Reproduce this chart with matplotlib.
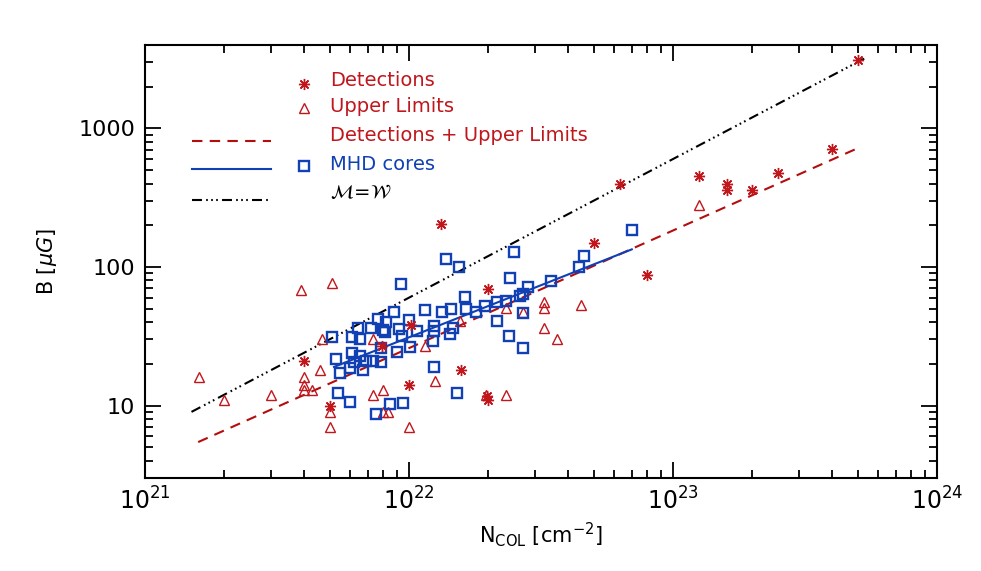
import matplotlib
matplotlib.use("Agg")
import matplotlib.pyplot as plt
from matplotlib.ticker import LogLocator, NullFormatter, FixedLocator, FixedFormatter

# ---------------- data ----------------
det_N = [5.0e23, 4.0e23, 2.5e23, 1.26e23, 1.6e23, 1.6e23, 2.0e23, 6.3e22, 8.0e22,
         5.0e22, 1.32e22, 2.0e22, 1.02e22, 1.58e22, 1.0e22, 2.0e22, 1.97e22,
         4.0e21, 7.9e21, 5.0e21]
det_B = [3100, 710, 480, 450, 400, 360, 360, 400, 87,
         150, 204, 69, 38, 18, 14, 11, 11.8,
         21, 27, 10]

ul_N = [1.6e21, 2.0e21, 3.0e21, 3.9e21, 4.0e21, 4.0e21, 4.0e21, 4.3e21, 4.6e21,
        4.7e21, 5.1e21, 5.0e21, 5.0e21, 7.3e21, 8.0e21, 8.0e21, 8.3e21, 7.3e21,
        1.0e22, 1.15e22, 1.26e22, 1.56e22, 1.96e22, 2.34e22, 2.34e22, 2.7e22,
        3.25e22, 3.25e22, 3.25e22, 3.65e22, 4.5e22, 1.26e23]
ul_B = [16, 11, 12, 68, 16, 14, 13, 13, 18,
        30, 77, 9, 7, 12, 13, 9, 9, 30,
        7, 27, 15, 41, 12, 12, 51, 47,
        56, 51, 36, 30, 53, 280]

mhd_N = [5.1e21, 5.3e21, 5.5e21, 5.4e21, 6.0e21, 6.0e21, 6.1e21, 6.1e21, 6.2e21,
         6.4e21, 6.5e21, 6.5e21, 6.7e21, 6.9e21, 7.2e21, 7.3e21, 7.5e21, 7.6e21,
         7.8e21, 7.8e21, 8.0e21, 8.1e21, 8.2e21, 8.5e21, 8.8e21, 9.0e21, 9.2e21,
         9.3e21, 9.4e21, 9.5e21, 1.0e22, 1.01e22, 1.07e22, 1.15e22, 1.24e22,
         1.24e22, 1.23e22, 1.24e22, 1.33e22, 1.38e22, 1.43e22, 1.44e22, 1.47e22,
         1.52e22, 1.55e22, 1.63e22, 1.65e22, 1.79e22, 1.94e22, 2.15e22, 2.15e22,
         2.33e22, 2.39e22, 2.42e22, 2.49e22, 2.63e22, 2.7e22, 2.71e22, 2.71e22,
         2.83e22, 3.44e22, 4.4e22, 4.6e22, 7.0e22]
mhd_B = [31, 21.6, 17.3, 12.3, 10.6, 18.6, 24, 31.4, 20.5,
         36, 30, 22.6, 18.2, 20.8, 36.5, 20.8, 8.7, 42,
         26, 20.7, 35, 33.7, 40, 10.3, 47, 24.5, 35.4,
         76, 32, 10.4, 41.5, 26.3, 34.6, 49, 37.6,
         34.7, 29.3, 19, 47, 114, 32.7, 49.5, 36.5,
         12.4, 100, 60.5, 50, 47, 52, 56, 41,
         57, 32, 83, 129, 62, 46.6, 26, 63.4,
         72, 79, 100, 120, 185]

# fitted / reference lines (end points)
fit_all_N = [1.59e21, 5.04e23]
fit_all_B = [5.45, 724]
fit_mhd_N = [5.2e21, 6.98e22]
fit_mhd_B = [19.0, 134]
mw_N = [1.5e21, 5.3e23]
mw_B = [9.0, 3190]

RED = '#c0161c'
DRED = '#b40d0d'
BLUE = '#1040b4'

plt.rcParams['font.family'] = ['DejaVu Sans']
plt.rcParams['mathtext.fontset'] = 'dejavusans'

fig = plt.figure(figsize=(9.81, 5.71), dpi=100)
ax = fig.add_axes([145/981, 1-478/571, 792/981, 433/571])
ax.set_xscale('log')
ax.set_yscale('log')
ax.set_xlim(1e21, 1e24)
ax.set_ylim(3, 4000)

lw = 1.5
ax.plot(mw_N, mw_B, color='black', lw=lw,
        linestyle=(0, (4.8, 2, 0.8, 1.6, 0.8, 1.6, 0.8, 2)), zorder=2)
ax.plot(fit_all_N, fit_all_B, color=DRED, lw=lw, linestyle=(0, (5, 3.5)), zorder=2)
ax.plot(fit_mhd_N, fit_mhd_B, color=BLUE, lw=lw, linestyle='-', zorder=2)

ax.plot(ul_N, ul_B, linestyle='none', marker='^', ms=7.5, mfc='none',
        mec=RED, mew=1.0, zorder=3)
ax.plot(mhd_N, mhd_B, linestyle='none', marker='s', ms=7.2, mfc='none',
        mec=BLUE, mew=1.7, zorder=3)
ax.plot(det_N, det_B, linestyle='none', marker=(8, 2, 0), ms=8, mfc='none',
        mec=RED, mew=1.0, zorder=4)

# ---------------- legend (hand placed, axes fraction) ----------------
T = ax.transAxes
fs = 14
x_text = 0.2336
x_sym = 0.201
ax.plot([x_sym], [0.910], transform=T, marker=(8, 2, 0), ms=8, mec=RED, mew=1.0,
        linestyle='none', clip_on=False)
ax.text(x_text, 0.917, 'Detections', color=RED, fontsize=fs, transform=T, va='center')
ax.plot([x_sym], [0.854], transform=T, marker='^', ms=7.5, mfc='none', mec=RED,
        mew=1.0, linestyle='none', clip_on=False)
ax.text(x_text, 0.858, 'Upper Limits', color=RED, fontsize=fs, transform=T, va='center')
ax.plot([0.059, 0.159], [0.778, 0.778], transform=T, color=DRED, lw=lw,
        linestyle=(0, (5, 3.5)), clip_on=False)
ax.text(x_text, 0.790, 'Detections + Upper Limits', color=RED, fontsize=fs,
        transform=T, va='center')
ax.plot([0.059, 0.159], [0.713], transform=T, color=BLUE, lw=lw, clip_on=False) if False else \
    ax.plot([0.059, 0.159], [0.713, 0.713], transform=T, color=BLUE, lw=lw, clip_on=False)
ax.plot([x_sym], [0.7206], transform=T, marker='s', ms=7.2, mfc='none', mec=BLUE,
        mew=1.7, linestyle='none', clip_on=False)
ax.text(x_text, 0.725, 'MHD cores', color=BLUE, fontsize=fs, transform=T, va='center')
ax.plot([0.059, 0.159], [0.642, 0.642], transform=T, color='black', lw=lw,
        linestyle=(0, (4.8, 2, 0.8, 1.6, 0.8, 1.6, 0.8, 2)), clip_on=False)
ax.text(x_text, 0.660, r'$\mathcal{M}\!=\!\mathcal{W}$', color='black', fontsize=fs,
        transform=T, va='center')

# ---------------- axes styling ----------------
for s in ax.spines.values():
    s.set_linewidth(1.5)
ax.xaxis.set_major_locator(LogLocator(base=10, numticks=10))
ax.xaxis.set_minor_locator(LogLocator(base=10, subs=range(2, 10), numticks=100))
ax.xaxis.set_minor_formatter(NullFormatter())
ax.yaxis.set_major_locator(FixedLocator([10, 100, 1000]))
ax.yaxis.set_major_formatter(FixedFormatter(['10', '100', '1000']))
ax.yaxis.set_minor_locator(LogLocator(base=10, subs=range(2, 10), numticks=100))
ax.yaxis.set_minor_formatter(NullFormatter())
ax.tick_params(which='both', direction='in', top=True, right=True, width=1.3)
ax.tick_params(which='major', length=11.5)
ax.tick_params(which='minor', length=5.8)
ax.tick_params(axis='y', labelsize=16, pad=7)
ax.tick_params(axis='x', labelsize=17, pad=7)

ax.set_xlabel(r'N$_{\mathrm{COL}}$ [cm$^{-2}$]', fontsize=15, labelpad=4)
ax.set_ylabel(r'B [$\mu G$]', fontsize=15, labelpad=14)

fig.savefig('out.png', dpi=100)
